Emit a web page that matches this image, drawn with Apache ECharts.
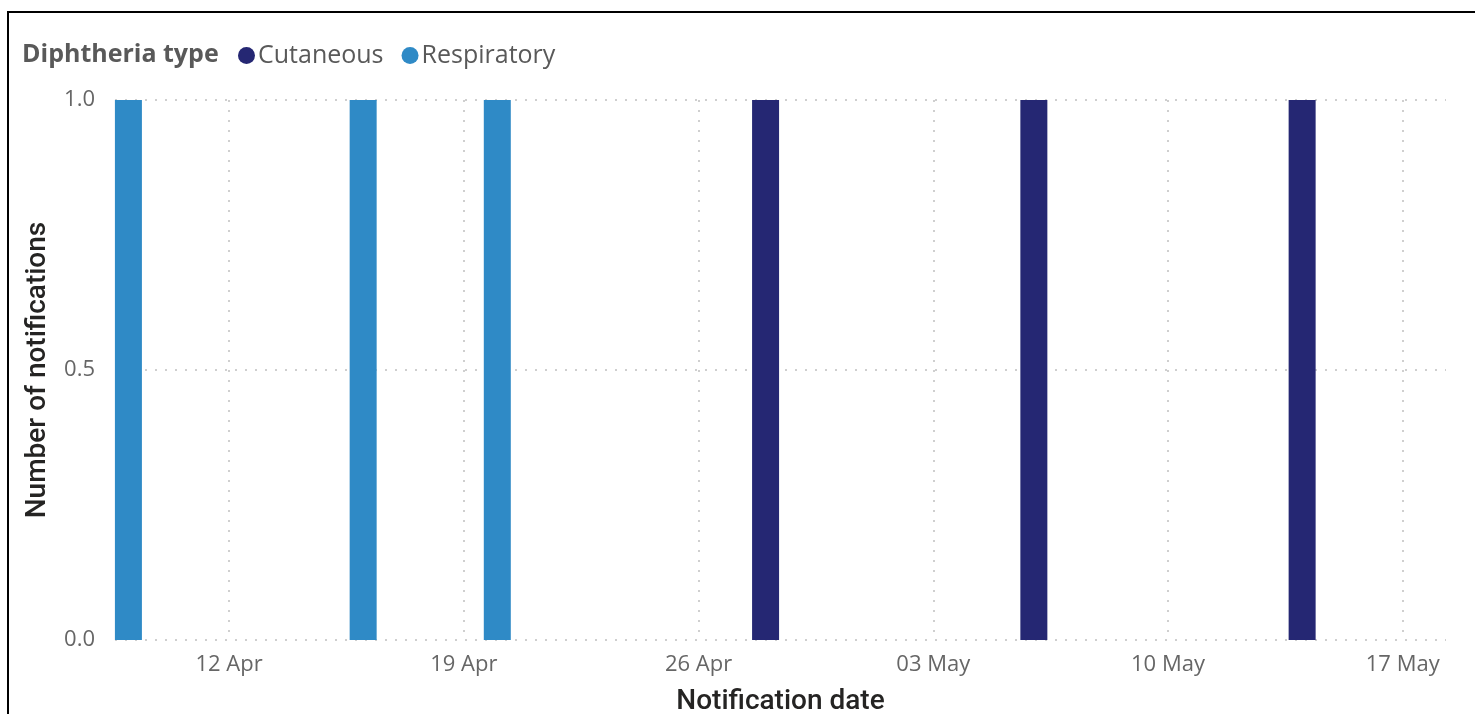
<!DOCTYPE html>
<html>
<head>
<meta charset="utf-8">
<script src="https://cdn.jsdelivr.net/npm/echarts@6/dist/echarts.min.js"></script>
<style>
  html, body { margin: 0; padding: 0; background: #fff; }
  #chart { position: absolute; left: 0; top: 0; width: 1475px; height: 714px; }
  .frame {
    position: absolute; left: 7px; top: 11px; right: 0; bottom: 0;
    border-top: 2px solid #000; border-left: 2px solid #000;
    pointer-events: none;
  }
</style>
</head>
<body>
<div id="chart"></div>
<div class="frame"></div>
<script>
// series data (notification date, count)
const respiratoryDates = ["2025-04-09", "2025-04-16", "2025-04-20"];
const respiratoryCounts = [1, 1, 1];
const cutaneousDates = ["2025-04-28", "2025-05-06", "2025-05-14"];
const cutaneousCounts = [1, 1, 1];

// x axis ticks
const tickDates = ["2025-04-12", "2025-04-19", "2025-04-26", "2025-05-03", "2025-05-10", "2025-05-17"];
const tickLabels = ["12 Apr", "19 Apr", "26 Apr", "03 May", "10 May", "17 May"];

// dates as day numbers
const DAY = 24 * 3600 * 1000;
function toDay(s) {
  const p = s.split("-");
  return Date.UTC(+p[0], +p[1] - 1, +p[2]) / DAY;
}
const tickDays = tickDates.map(toDay);

function pairs(dates, counts) {
  return dates.map((d, i) => [toDay(d), counts[i]]);
}

const mychart = echarts.init(document.getElementById("chart"));
const gridLine = { color: "#cfcfcf", width: 2, type: [2, 8] };

mychart.setOption({
  animation: false,
  color: ["#252773", "#2f8ac6"],
  title: {
    text: "Diphtheria type",
    left: 22,
    top: 42,
    padding: 0,
    textStyle: { fontFamily: "Open Sans", fontWeight: "bold", fontSize: 25, color: "#595959" }
  },
  legend: {
    left: 238,
    top: 43,
    padding: 0,
    icon: "circle",
    itemWidth: 17,
    itemHeight: 17,
    itemGap: 18,
    textStyle: { fontFamily: "Open Sans", fontSize: 25, color: "#595959", padding: [0, 0, 0, -2] },
    data: ["Cutaneous", "Respiratory"]
  },
  grid: { left: 115, right: 29, top: 100, bottom: 74, outerBoundsMode: "none" },
  xAxis: {
    type: "value",
    min: toDay(respiratoryDates[0]) - 0.4,
    max: tickDays[tickDays.length - 1] + 1.29,
    name: "Notification date",
    nameLocation: "middle",
    nameGap: 48,
    nameTextStyle: { fontFamily: "Roboto", fontWeight: 500, fontSize: 28, color: "#252423" },
    axisLine: { show: false },
    axisTick: { show: false, customValues: tickDays },
    axisLabel: {
      customValues: tickDays,
      fontFamily: "Open Sans",
      fontSize: 22,
      color: "#666",
      margin: 14,
      formatter: function (v) {
        const i = tickDays.indexOf(v);
        return i >= 0 ? tickLabels[i] : "";
      }
    },
    splitLine: { show: true, lineStyle: gridLine }
  },
  yAxis: {
    type: "value",
    min: 0,
    max: 1,
    interval: 0.5,
    name: "Number of notifications",
    nameLocation: "middle",
    nameGap: 63,
    nameTextStyle: { fontFamily: "Roboto", fontWeight: 500, fontSize: 28, color: "#252423" },
    axisLine: { show: false },
    axisTick: { show: false },
    axisLabel: {
      fontFamily: "Open Sans",
      fontSize: 22,
      color: "#666",
      margin: 20,
      formatter: v => v.toFixed(1)
    },
    splitLine: { show: true, lineStyle: gridLine }
  },
  series: [
    {
      name: "Cutaneous",
      type: "bar",
      stack: "all",
      barWidth: 27,
      data: pairs(cutaneousDates, cutaneousCounts)
    },
    {
      name: "Respiratory",
      type: "bar",
      stack: "all",
      barWidth: 27,
      data: pairs(respiratoryDates, respiratoryCounts)
    }
  ]
});
window.addEventListener("resize", function () {
  mychart.resize();
});
</script>
</body>
</html>
